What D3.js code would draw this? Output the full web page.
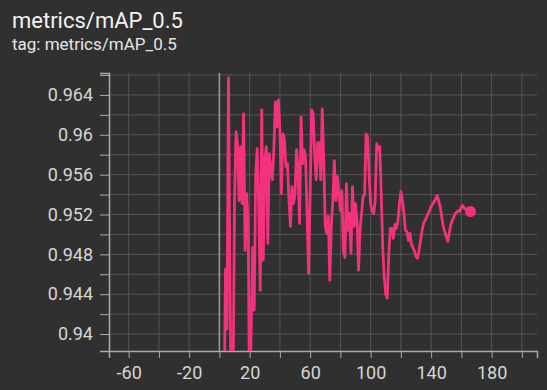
<!DOCTYPE html>
<html>
<head>
<meta charset="utf-8">
<script src="https://cdn.jsdelivr.net/npm/d3@7"></script>
<style>
  html, body { margin: 0; padding: 0; background: #303030; }
  svg { display: block; font-family: Roboto, "Noto Sans", sans-serif; }
</style>
</head>
<body>
<svg></svg>
<script>
// mAP_0.5 curve, tensorboard dark style
const width = 547;
const height = 390;

const svg = d3.select("svg")
  .attr("width", width)
  .attr("height", height);

// steps + values
const steps = [
  3, 4, 5, 6, 7, 8, 9, 10, 11, 12, 13, 14, 15, 16, 17, 18, 19, 20, 21, 22,
  23, 24, 25, 26, 27, 28, 29, 30, 31, 32, 33, 34, 35, 36, 37, 38, 39, 40, 41, 42,
  43, 44, 45, 46, 47, 48, 49, 50, 51, 52, 53, 54, 55, 56, 57, 58, 59, 60, 61, 62,
  63, 64, 65, 66, 67, 68, 69, 70, 71, 72, 73, 74, 75, 76, 77, 78, 79, 80, 81, 82,
  83, 84, 85, 86, 87, 88, 89, 90, 91, 92, 93, 94, 95, 96, 97, 98, 99, 100, 101, 102,
  103, 104, 105, 106, 107, 108, 109, 110, 111, 112, 113, 114, 115, 116, 117, 118, 119, 120, 121, 122,
  123, 124, 125, 126, 127, 128, 129, 130, 131, 132, 133, 134, 135, 136, 138, 140, 142, 144, 146, 148,
  150, 151, 153, 154, 156, 158, 159, 160, 161, 162, 164, 166
];
const mAP = [
  0.9300, 0.9465, 0.9405, 0.9657, 0.9450, 0.9300, 0.9340, 0.9535, 0.9603, 0.9590,
  0.9534, 0.9588, 0.9531, 0.9621, 0.9484, 0.9541, 0.9511, 0.9320, 0.9402, 0.9487,
  0.9424, 0.9561, 0.9586, 0.9531, 0.9444, 0.9625, 0.9474, 0.9575, 0.9588, 0.9491,
  0.9581, 0.9565, 0.9555, 0.9585, 0.9633, 0.9608, 0.9635, 0.9605, 0.9541, 0.9601,
  0.9595, 0.9568, 0.9571, 0.9534, 0.9508, 0.9548, 0.9531, 0.9541, 0.9585, 0.9565,
  0.9511, 0.9618, 0.9571, 0.9585, 0.9578, 0.9518, 0.9461, 0.9541, 0.9625, 0.9621,
  0.9581, 0.9555, 0.9592, 0.9592, 0.9555, 0.9626, 0.9575, 0.9508, 0.9501, 0.9518,
  0.9454, 0.9508, 0.9534, 0.9574, 0.9534, 0.9558, 0.9541, 0.9524, 0.9544, 0.9484,
  0.9477, 0.9551, 0.9504, 0.9521, 0.9481, 0.9548, 0.9508, 0.9531, 0.9514, 0.9464,
  0.9504, 0.9521, 0.9538, 0.9540, 0.9601, 0.9598, 0.9560, 0.9530, 0.9524, 0.9521,
  0.9534, 0.9591, 0.9585, 0.9588, 0.9541, 0.9487, 0.9457, 0.9440, 0.9436, 0.9481,
  0.9506, 0.9506, 0.9496, 0.9510, 0.9506, 0.9513, 0.9530, 0.9543, 0.9534, 0.9521,
  0.9504, 0.9503, 0.9494, 0.9501, 0.9490, 0.9487, 0.9483, 0.9478, 0.9476, 0.9484,
  0.9494, 0.9504, 0.9511, 0.9514, 0.9521, 0.9528, 0.9533, 0.9539, 0.9528, 0.9508,
  0.9498, 0.9493, 0.9510, 0.9514, 0.9521, 0.9524, 0.9523, 0.9528, 0.9529, 0.9526,
  0.9525, 0.9523
];

const xTicks = [-60, -20, 20, 60, 100, 140, 180];
const yTicks = [0.94, 0.944, 0.948, 0.952, 0.956, 0.96, 0.964];

const data = steps.map((s, i) => ({ step: s, value: mAP[i] }));

const marginTop = 73;
const marginRight = 10;
const marginBottom = 39;
const marginLeft = 109;

const x = d3.scaleLinear().domain([-73, 210]).range([marginLeft, width - marginRight]);
const y = d3.scaleLinear().domain([0.9383, 0.9662]).range([height - marginBottom, marginTop]);

// titles
svg.append("text")
  .attr("x", 12)
  .attr("y", 28)
  .attr("fill", "#f2f2f2")
  .attr("font-size", "22px")
  .text("metrics/mAP_0.5");

svg.append("text")
  .attr("x", 12)
  .attr("y", 50)
  .attr("fill", "#e6e6e6")
  .attr("font-size", "17px")
  .text("tag: metrics/mAP_0.5");

// grid every 20 steps / 0.002
const gridX = d3.range(-60, 210, 20);
const gridY = d3.range(0.940, 0.9661, 0.002);

svg.append("g")
  .selectAll("line")
  .data(gridX)
  .join("line")
  .attr("x1", d => x(d)).attr("x2", d => x(d))
  .attr("y1", marginTop).attr("y2", height - marginBottom)
  .attr("stroke", "#555")
  .attr("stroke-width", 1);

svg.append("g")
  .selectAll("line")
  .data(gridY)
  .join("line")
  .attr("x1", marginLeft).attr("x2", width - marginRight)
  .attr("y1", d => y(d)).attr("y2", d => y(d))
  .attr("stroke", "#555")
  .attr("stroke-width", 1);

// zero line
svg.append("line")
  .attr("x1", x(0)).attr("x2", x(0))
  .attr("y1", marginTop).attr("y2", height - marginBottom)
  .attr("stroke", "#9a9a9a")
  .attr("stroke-width", 1.5);

// axes
const xAxis = svg.append("g")
  .attr("transform", `translate(0, ${height - marginBottom})`)
  .call(d3.axisBottom(x).tickValues(gridX).tickSize(7).tickPadding(8)
    .tickFormat(d => xTicks.includes(d) ? d : ""));

const yAxis = svg.append("g")
  .attr("transform", `translate(${marginLeft}, 0)`)
  .call(d3.axisLeft(y).tickValues(gridY).tickSize(9).tickPadding(7)
    .tickFormat(d => yTicks.some(t => Math.abs(t - d) < 1e-6) ? d3.format("~g")(+d.toFixed(3)) : ""));

[xAxis, yAxis].forEach(a => {
  a.select(".domain").attr("stroke", "#aaa").attr("stroke-width", 1.5);
  a.selectAll(".tick line").attr("stroke", "#aaa");
  a.selectAll(".tick text")
    .attr("fill", "#d6d6d6")
    .attr("font-size", "18px")
    .attr("font-family", "Roboto, sans-serif");
});

// clip so low values drop off the bottom
svg.append("clipPath").attr("id", "plotClip")
  .append("rect")
  .attr("x", marginLeft).attr("y", marginTop)
  .attr("width", width - marginRight - marginLeft)
  .attr("height", height - marginBottom - marginTop);

const line = d3.line()
  .x(d => x(d.step))
  .y(d => y(d.value));

svg.append("path")
  .datum(data)
  .attr("clip-path", "url(#plotClip)")
  .attr("fill", "none")
  .attr("stroke", "#f2327c")
  .attr("stroke-width", 2.8)
  .attr("stroke-linejoin", "round")
  .attr("d", line);

// last point marker
const last = data[data.length - 1];
svg.append("circle")
  .attr("cx", x(last.step))
  .attr("cy", y(last.value))
  .attr("r", 5.5)
  .attr("fill", "#f2327c");
</script>
</body>
</html>
